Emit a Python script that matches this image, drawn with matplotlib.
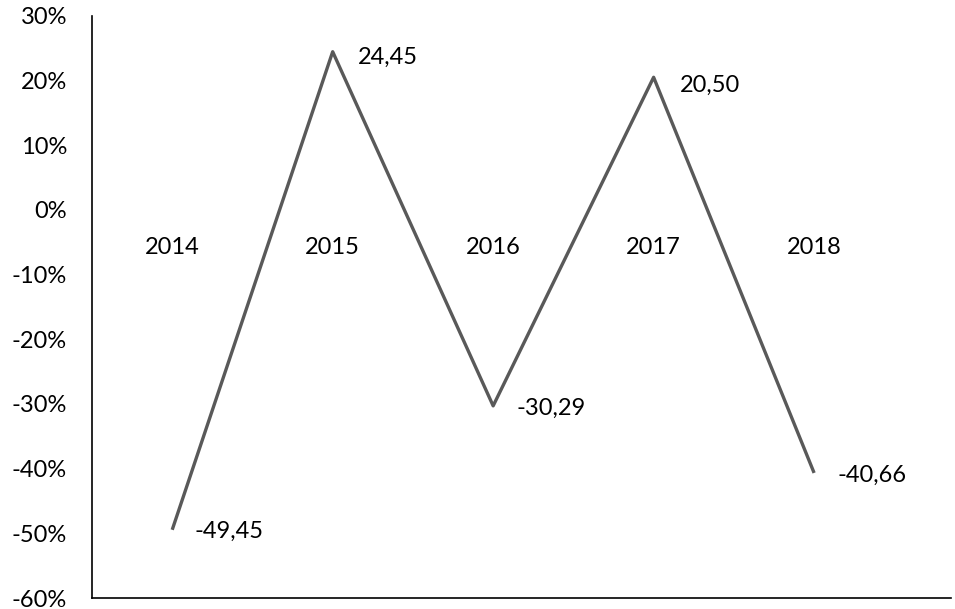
import matplotlib.pyplot as plt
from matplotlib.ticker import FuncFormatter

plt.rcParams.update(
    {
        "font.family": ["Lato", "DejaVu Sans"],
        "font.size": 17,
    }
)

years = ["2014", "2015", "2016", "2017", "2018"]
change = [-49.45, 24.45, -30.29, 20.50, -40.66]

# label offsets in points (dx, dy), like Excel puts them right of the point
label_off = [(16, -1), (18, -4), (17, -2), (19, -6), (17, -2)]

fig = plt.figure(figsize=(9.55, 6.09), dpi=100)
ax = fig.add_axes([0.0963, 0.018, 0.899, 0.956])

x = list(range(len(years)))
ax.plot(x, change, color="#595959", lw=2.4, solid_capstyle="butt")

for xi, v, off in zip(x, change, label_off):
    ax.annotate(
        f"{v:.2f}".replace(".", ","),
        (xi, v),
        xytext=off,
        textcoords="offset points",
        ha="left",
        va="center",
        color="black",
    )

# category labels sit just below the 0 line
for xi, yr in zip(x, years):
    ax.annotate(yr, (xi, 0), xytext=(0, -27), textcoords="offset points",
                ha="center", va="center")

ax.set_xlim(-0.5, 4.85)
ax.set_ylim(-60, 30)
ax.set_yticks(range(-60, 31, 10))
ax.yaxis.set_major_formatter(FuncFormatter(lambda v, p: f"{v:.0f}%"))
ax.set_xticks([])
ax.tick_params(axis="y", length=0, pad=18)

ax.spines["top"].set_visible(False)
ax.spines["right"].set_visible(False)
ax.spines["left"].set_linewidth(1.2)
ax.spines["bottom"].set_linewidth(1.2)

fig.savefig("out.png", dpi=100)
